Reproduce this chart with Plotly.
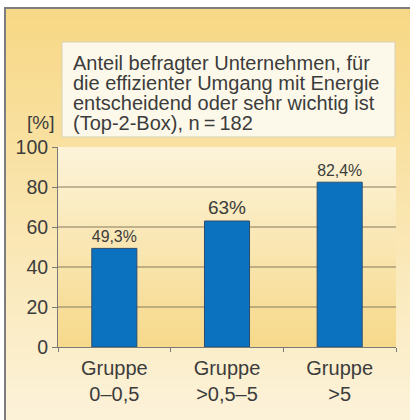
import plotly.graph_objects as go
import numpy as np

categories = ["Gruppe<br>0\u20130,5", "Gruppe<br>>0,5\u20135", "Gruppe<br>>5"]
values = [49.3, 63.0, 82.4]
value_labels = ["49,3%", "63%", "82,4%"]
y_ticks = [0, 20, 40, 60, 80, 100]
grid_values = [20, 40, 60, 80]
title_lines = [
    "Anteil befragter Unternehmen, f\u00fcr",
    "die effizienter Umgang mit Energie",
    "entscheidend oder sehr wichtig ist",
    "(Top-2-Box), n\u2009=\u2009182",
]
unit_label = "[%]"

W, H = 410, 420
L, R, T, B = 58, 14, 147, 73
PW, PH = W - L - R, H - T - B

def px(x):
    return (x - L) / PW

def py(y):
    return (H - B - y) / PH

FONT = "Liberation Sans, Arial, Helvetica, sans-serif"
TXT = "#3c3c3c"

def mix(c1, c2, t):
    a = np.array([int(c1[i:i + 2], 16) for i in (1, 3, 5)])
    b = np.array([int(c2[i:i + 2], 16) for i in (1, 3, 5)])
    c = (a + (b - a) * t).round().astype(int)
    return "#%02x%02x%02x" % tuple(c)

shapes = []
# paper gradient (yellow top -> cream bottom)
n = 40
y0p, y1p = 9, H
for i in range(n):
    ya = y0p + (y1p - y0p) * i / n
    yb = y0p + (y1p - y0p) * (i + 1) / n + 0.6
    shapes.append(dict(type="rect", xref="paper", yref="paper", layer="below",
                       x0=px(6), x1=px(W + 2), y0=py(yb), y1=py(ya),
                       fillcolor=mix("#f7d886", "#fcf2d8", i / (n - 1)), line=dict(width=0)))
# plot-area gradient (cream top -> yellow bottom)
n2 = 30
for i in range(n2):
    ya = T + PH * i / n2
    yb = T + PH * (i + 1) / n2 + 0.6
    shapes.append(dict(type="rect", xref="paper", yref="paper", layer="below",
                       x0=0, x1=1, y0=py(min(yb, T + PH)), y1=py(ya),
                       fillcolor=mix("#fcf3d8", "#f6d98b", i / (n2 - 1)), line=dict(width=0)))
# frame lines
shapes.append(dict(type="line", xref="paper", yref="paper", x0=px(5), x1=px(W + 2),
                   y0=py(8), y1=py(8), line=dict(color="#7d7d80", width=2)))
shapes.append(dict(type="line", xref="paper", yref="paper", x0=px(5), x1=px(5),
                   y0=py(7), y1=py(H + 2), line=dict(color="#7d7d80", width=2)))
# title box
shapes.append(dict(type="rect", xref="paper", yref="paper", x0=px(62), x1=px(395),
                   y0=py(137), y1=py(42), fillcolor="#fdf9ea",
                   line=dict(color="#d9d0b4", width=1)))
# grid lines
for g in grid_values:
    shapes.append(dict(type="line", xref="paper", yref="y", x0=0, x1=1, y0=g, y1=g,
                       layer="below", line=dict(color="#857a5c", width=1)))

annotations = []
for i, line in enumerate(title_lines):
    annotations.append(dict(text=line, xref="paper", yref="paper", x=px(71), y=py(63 + 20 * i),
                            xanchor="left", yanchor="middle", showarrow=False,
                            font=dict(family=FONT, size=20, color=TXT)))
annotations.append(dict(text=unit_label, xref="paper", yref="paper", x=px(56), y=py(123),
                        xanchor="right", yanchor="middle", showarrow=False,
                        font=dict(family=FONT, size=19, color=TXT)))

fig = go.Figure(go.Bar(
    x=categories, y=values, text=value_labels, textposition="outside",
    textfont=dict(family=FONT, size=19, color=TXT), cliponaxis=False,
    marker=dict(color="#0a72bf", line=dict(color="#2d4d70", width=1)),
    width=0.4, hoverinfo="skip"))

fig.update_layout(
    width=W, height=H, margin=dict(l=L, r=R, t=T, b=B, pad=0),
    paper_bgcolor="white", plot_bgcolor="rgba(0,0,0,0)",
    shapes=shapes, annotations=annotations, showlegend=False,
    font=dict(family=FONT, color=TXT),
)
fig.update_xaxes(showline=True, linecolor="#7a7a7a", linewidth=1, ticks="outside",
                 tickson="boundaries", ticklen=4, tickcolor="#7a7a7a", showgrid=False,
                 ticklabelstandoff=3,
                 tickfont=dict(family=FONT, size=20, color=TXT), fixedrange=True)
fig.update_yaxes(range=[0, 100], tickvals=y_ticks, showline=True, linecolor="#7a7a7a",
                 linewidth=1, ticks="outside", ticklen=5, tickcolor="#7a7a7a",
                 showgrid=False, zeroline=False,
                 tickfont=dict(family=FONT, size=19.5, color=TXT), fixedrange=True)

fig.write_html("out.html", config={"displayModeBar": False},
               post_script="document.documentElement.style.overflow='hidden';"
                           "document.body.style.overflow='hidden';"
                           "document.body.style.margin='0';")
